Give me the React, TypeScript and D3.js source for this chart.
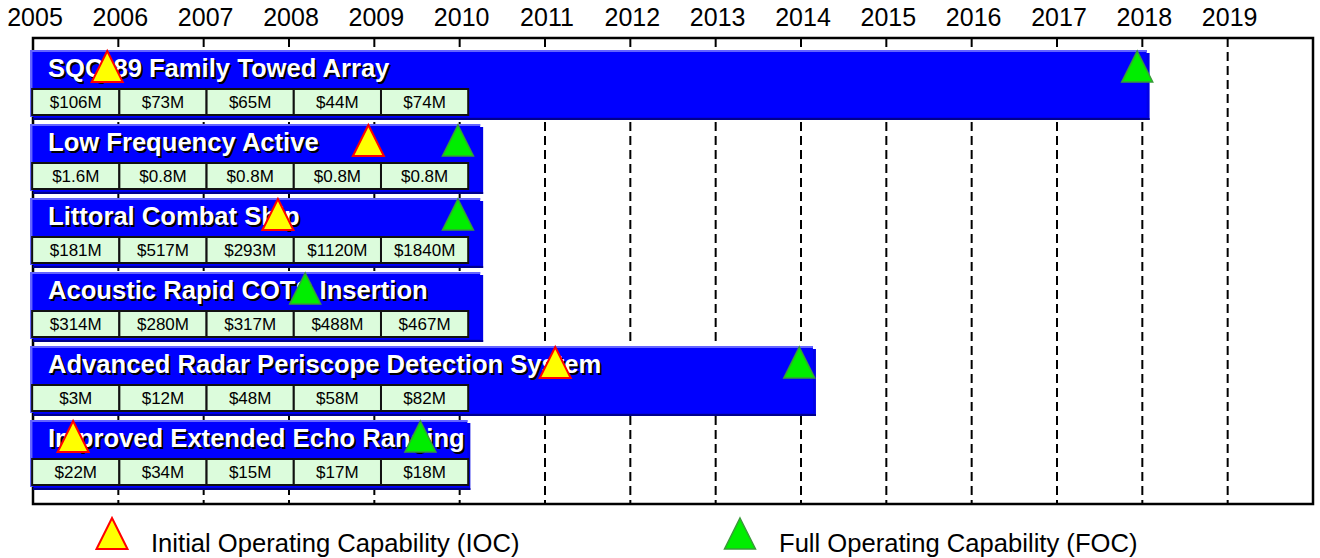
import React from "react";
import * as d3 from "d3";

const programs = [
  "SQQ-89 Family Towed Array",
  "Low Frequency Active",
  "Littoral Combat Ship",
  "Acoustic Rapid COTS Insertion",
  "Advanced Radar Periscope Detection System",
  "Improved Extended Echo Ranging",
];
const barEnd = [2018.05, 2010.24, 2010.24, 2010.24, 2014.14, 2010.09];
const iocYear: (number | null)[] = [2005.87, 2008.93, 2007.87, null, 2011.12, 2005.47];
const focYear: (number | null)[] = [2017.94, 2009.98, 2009.98, 2008.19, 2013.98, 2009.54];
const fiscalYears = [2005, 2006, 2007, 2008, 2009];
const costs = [
  ["$106M", "$73M", "$65M", "$44M", "$74M"],
  ["$1.6M", "$0.8M", "$0.8M", "$0.8M", "$0.8M"],
  ["$181M", "$517M", "$293M", "$1120M", "$1840M"],
  ["$314M", "$280M", "$317M", "$488M", "$467M"],
  ["$3M", "$12M", "$48M", "$58M", "$82M"],
  ["$22M", "$34M", "$15M", "$17M", "$18M"],
];
const yearTicks = d3.range(2005, 2020);
const legendItems = [
  { key: "ioc", label: "Initial Operating Capability (IOC)" },
  { key: "foc", label: "Full Operating Capability (FOC)" },
];

const W = 1320;
const H = 558;
const FONT = "Arial, 'Liberation Sans', Helvetica, sans-serif";

const x = d3.scaleLinear().domain([2005, 2020]).range([33, 1313]);
const y = d3.scaleBand<string>().domain(programs).range([50, 487]).paddingInner(0.0946).paddingOuter(0);
const cellX = d3.scaleBand<number>().domain(fiscalYears).range([x(2004.99), x(2010.1)]);

const frameTop = 38;
const frameBottom = 504;

function tri(cx: number, top: number, size = 31) {
  const h = size;
  const w = size / 2;
  return `M${cx},${top}L${cx + w},${top + h}L${cx - w},${top + h}Z`;
}

const IOC_FILL = "#ffff00";
const IOC_STROKE = "#ff0000";
const FOC_FILL = "#00ee00";
const FOC_STROKE = "#3a9a3a";

export default function App() {
  const bw = y.bandwidth();
  return (
    <svg
      width={W}
      height={H}
      style={{ position: "absolute", left: 0, top: 0, background: "#ffffff" }}
      fontFamily={FONT}
    >
      <rect x={0} y={0} width={W} height={H} fill="#ffffff" />
      {/* year labels */}
      {yearTicks.map((yr) => (
        <text key={yr} x={x(yr) + 2} y={26} textAnchor="middle" fontSize={25} fill="#000">
          {yr}
        </text>
      ))}
      {/* gridlines */}
      {yearTicks.slice(1).map((yr) => (
        <line
          key={"g" + yr}
          x1={x(yr)}
          x2={x(yr)}
          y1={frameTop}
          y2={frameBottom}
          stroke="#000"
          strokeWidth={2}
          strokeDasharray="9,5"
        />
      ))}
      {/* frame */}
      <rect
        x={x(2005)}
        y={frameTop}
        width={x(2020) - x(2005)}
        height={frameBottom - frameTop}
        fill="none"
        stroke="#000"
        strokeWidth={2.5}
      />
      {/* bars */}
      {programs.map((p, i) => {
        const top = y(p)!;
        const x0 = x(2004.97);
        const x1 = x(barEnd[i]);
        const w = x1 - x0;
        return (
          <g key={p}>
            <rect x={x0 + 3} y={top + 3} width={w} height={bw} fill="#0000e8" />
            <line x1={x0 + 3} x2={x0 + 3 + w} y1={top + bw + 2} y2={top + bw + 2} stroke="#00008c" strokeWidth={2} />
            <rect x={x0} y={top} width={w} height={bw} fill="#0000ff" />
            <line x1={x0} x2={x1} y1={top + 1} y2={top + 1} stroke="#6464ff" strokeWidth={2} />
            <line x1={x0 + 1} x2={x0 + 1} y1={top} y2={top + bw} stroke="#6464ff" strokeWidth={2} />
            {/* cost cells */}
            {fiscalYears.map((fy, j) => (
              <g key={fy}>
                <rect
                  x={cellX(fy)!}
                  y={top + 39}
                  width={cellX.bandwidth()}
                  height={26}
                  fill="#dcfcdc"
                  stroke="#111"
                  strokeWidth={2}
                />
                <text
                  x={cellX(fy)! + cellX.bandwidth() / 2}
                  y={top + 58}
                  textAnchor="middle"
                  fontSize={17}
                  fill="#000"
                >
                  {costs[i][j]}
                </text>
              </g>
            ))}
            {/* title */}
            <text x={50} y={top + 29} fontSize={25.6} fontWeight="bold" fill="#000">
              {p}
            </text>
            <text x={48} y={top + 27} fontSize={25.6} fontWeight="bold" fill="#fff">
              {p}
            </text>
            {/* milestones */}
            {iocYear[i] != null && (
              <path d={tri(x(iocYear[i] as number), top + 1)} fill={IOC_FILL} stroke={IOC_STROKE} strokeWidth={2} />
            )}
            {focYear[i] != null && (
              <path d={tri(x(focYear[i] as number), top + 1)} fill={FOC_FILL} stroke={FOC_STROKE} strokeWidth={1.5} />
            )}
          </g>
        );
      })}
      {/* legend */}
      <g>
        <path d={tri(112, 518)} fill={IOC_FILL} stroke={IOC_STROKE} strokeWidth={2} />
        <text x={151} y={552} fontSize={25.6} fill="#000">
          {legendItems[0].label}
        </text>
        <path d={tri(740, 518)} fill={FOC_FILL} stroke={FOC_STROKE} strokeWidth={1.5} />
        <text x={779} y={552} fontSize={25.6} fill="#000">
          {legendItems[1].label}
        </text>
      </g>
    </svg>
  );
}
